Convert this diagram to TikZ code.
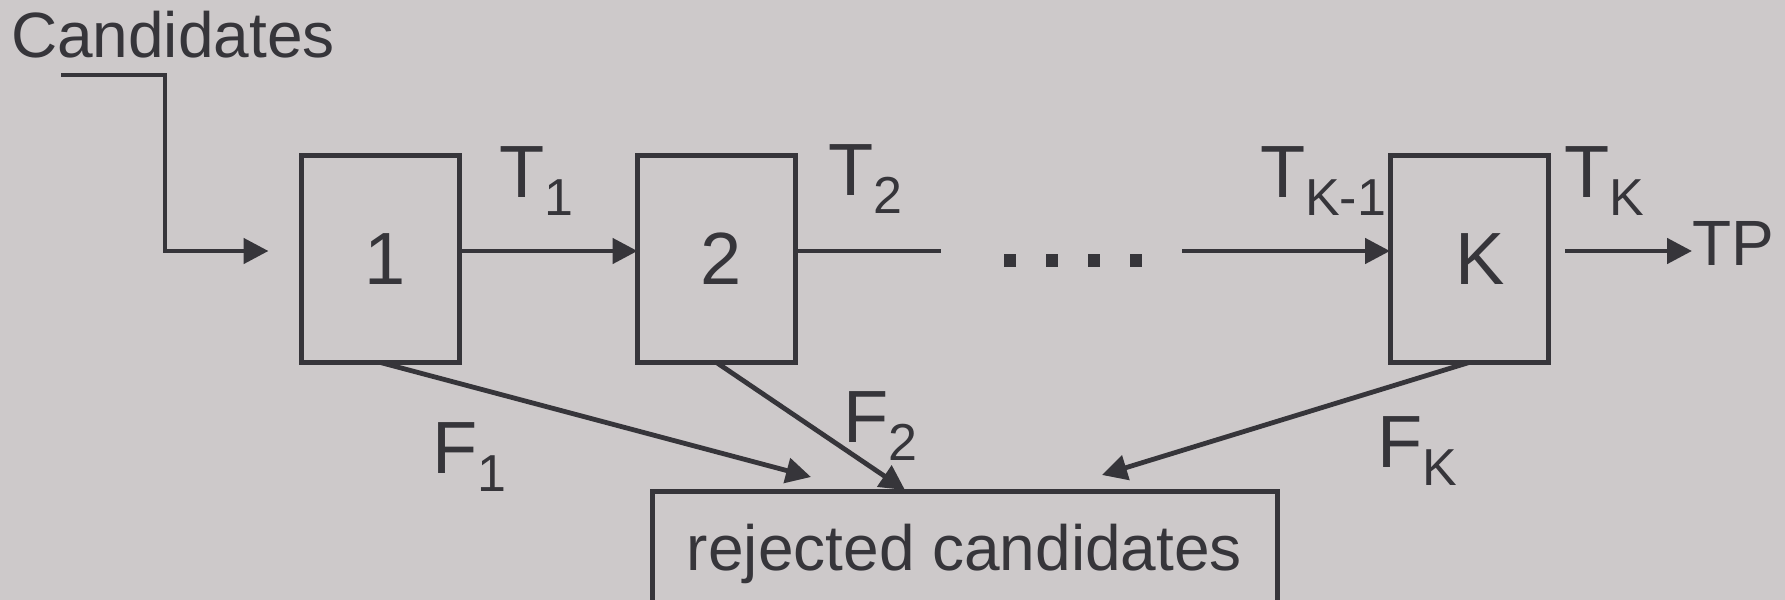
\documentclass[tikz,border=0pt]{standalone}
\usepackage{fontspec}
\setmainfont{Liberation Sans}
\usetikzlibrary{arrows.meta,calc}
\definecolor{bg}{RGB}{205,201,202}
\definecolor{ink}{RGB}{54,53,58}
\newcommand{\sublab}[2]{{\fontsize{37}{40}\selectfont #1}\raisebox{-9pt}{\fontsize{26}{28}\selectfont #2}}
\begin{document}
\begin{tikzpicture}[x=0.5pt,y=-0.5pt,
  every node/.style={inner sep=0pt, outer sep=0pt, text=ink},
  stage/.style={draw=ink, line width=2.5pt, minimum width=79pt, minimum height=103.5pt, font=\fontsize{37}{40}\selectfont},
  conn/.style={draw=ink, line width=2.4pt},
  arr/.style={conn, -{Triangle[length=12.5pt,width=12.5pt]}},
  lab/.style={anchor=base west},
  bigtxt/.style={font=\fontsize{32}{36}\selectfont},
  dotsq/.style={fill=ink, minimum width=6pt, minimum height=6.5pt}
]
\fill[bg] (0,0) rectangle (1785,600);
\useasboundingbox (0,0) rectangle (1785,600);
\clip (0,0) rectangle (1785,600);

\node[lab, bigtxt] (cand) at (11,57) {Candidates};
\node[stage] (b1) at (380.5,259) {\hspace*{5pt}1};
\node[stage] (b2) at (716.5,259) {\hspace*{5pt}2};
\node[stage] (bK) at (1469,259) {\hspace*{11pt}K};
\node[lab, bigtxt] (tp) at (1692,265) {TP};
\node[draw=ink, line width=2.5pt, minimum width=312.5pt, anchor=north,
      text height=26pt, text depth=30pt, inner ysep=13.5pt, bigtxt] (rej) at (964.5,491) {rejected candidates};

\node[dotsq] (d1) at (1010,260) {};
\node[dotsq] (d2) at (1052,260) {};
\node[dotsq] (d3) at (1094,260) {};
\node[dotsq] (d4) at (1136,260) {};

\node[lab] (t1) at (499,197) {\sublab{T}{1}};
\node[lab] (t2) at (828,195) {\sublab{T}{2}};
\node[lab] (tk1) at (1260,197) {\sublab{T}{K-1}};
\node[lab] (tk) at (1564,197) {\sublab{T}{K}};
\node[lab] (f1) at (432,473) {\sublab{F}{1}};
\node[lab] (f2) at (843,442) {\sublab{F}{2}};
\node[lab] (fk) at (1377,467) {\sublab{F}{K}};

\coordinate (yl) at (0,251);
\coordinate (cin) at (61,75);
\coordinate (cturn) at (165,251);
\coordinate (c2e) at (941,251);
\coordinate (cKs) at (1182,251);
\coordinate (f1e) at (811,477);
\coordinate (f2e) at (905,490);
\coordinate (fke) at (1102,475);

\draw[arr] (cin) -| (cturn) -- ($(b1.west |- yl)+(-33,0)$);
\draw[arr] (b1.east |- yl) -- (b2.west |- yl);
\draw[conn] (b2.east |- yl) -- (c2e);
\draw[arr] (cKs) -- (bK.west |- yl);
\draw[arr] ($(bK.east |- yl)+(17,0)$) -- (tp.west |- yl);
\draw[arr] (b1.south) -- (f1e);
\draw[arr] (b2.south) -- (f2e);
\draw[arr] (bK.south) -- (fke);
\end{tikzpicture}
\end{document}
